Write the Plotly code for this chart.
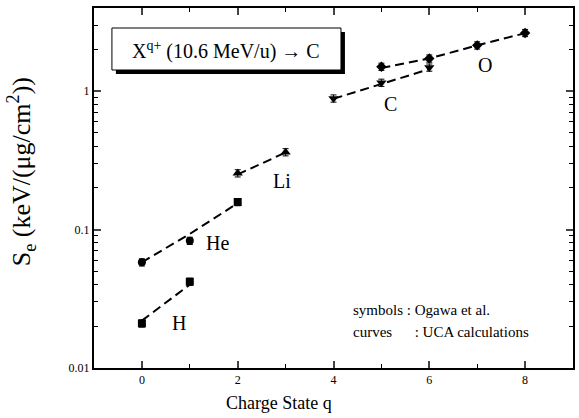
import plotly.graph_objects as go

# ---- data ----
h_q = [0, 1]
h_se = [0.021, 0.042]
he_q = [0, 1]
he_se = [0.058, 0.083]
he2_q = [2]
he2_se = [0.158]
li_q = [2, 3]
li_se = [0.255, 0.362]
c_q = [4, 5, 6]
c_se = [0.885, 1.15, 1.48]
o_q = [5, 6, 7, 8]
o_se = [1.50, 1.72, 2.14, 2.63]

# UCA calculation curves
h_cq = [0, 1]
h_cse = [0.022, 0.040]
he_cq = [0, 1, 2]
he_cse = [0.058, 0.093, 0.155]
li_cq = [2, 3]
li_cse = [0.25, 0.36]
c_cq = [4, 5, 6]
c_cse = [0.88, 1.13, 1.44]
o_cq = [5, 6, 7, 8]
o_cse = [1.47, 1.72, 2.14, 2.62]

x_ticks = [0, 2, 4, 6, 8]
y_ticks = [0.01, 0.1, 1]
y_tick_text = ["0.01", "0.1", "1"]

FONT = "Liberation Serif"

fig = go.Figure()

dash = "9px,5px"
for cq, cse in [(h_cq, h_cse), (he_cq, he_cse), (li_cq, li_cse), (c_cq, c_cse), (o_cq, o_cse)]:
    fig.add_trace(go.Scatter(x=cq, y=cse, mode="lines",
                             line=dict(color="black", width=2, dash=dash),
                             showlegend=False, hoverinfo="skip"))

err = dict(type="percent", value=6, color="black", thickness=1, width=3)
for q, se, sym, sz in [(h_q, h_se, "square", 8), (he_q, he_se, "circle", 8),
                       (he2_q, he2_se, "square", 8), (li_q, li_se, "triangle-up", 9),
                       (c_q, c_se, "triangle-down", 9), (o_q, o_se, "diamond", 8)]:
    fig.add_trace(go.Scatter(x=q, y=se, mode="markers",
                             marker=dict(symbol=sym, size=sz, color="black"),
                             error_y=err, showlegend=False))

minor_vals = [m * 10 ** e for e in (-2, -1, 0) for m in range(2, 10)]

fig.update_xaxes(range=[-1, 9], tickvals=x_ticks, ticks="inside", ticklen=7, tickwidth=1.5,
                 showline=True, linewidth=2, linecolor="black", mirror="ticks",
                 showgrid=False, zeroline=False,
                 tickfont=dict(family=FONT, size=12, color="black"),
                 minor=dict(tickvals=[1, 3, 5, 7], ticks="inside", ticklen=4, tickwidth=1, tickcolor="black"))
fig.update_yaxes(type="log", range=[-2, 0.6], tickvals=y_ticks, ticktext=y_tick_text,
                 ticks="inside", ticklen=7, tickwidth=1.5,
                 showline=True, linewidth=2, linecolor="black", mirror="ticks",
                 showgrid=False, zeroline=False,
                 tickfont=dict(family=FONT, size=12, color="black"),
                 minor=dict(tickvals=minor_vals, ticks="inside", ticklen=4, tickwidth=1, tickcolor="black"))

def px(xp):
    return (xp - 94) / 481.0

def py(yp):
    return (368 - yp) / 360.0

shapes = [
    dict(type="rect", xref="paper", yref="paper", x0=px(116), x1=px(346), y0=py(74), y1=py(32),
         fillcolor="black", line=dict(width=0)),
    dict(type="rect", xref="paper", yref="paper", x0=px(112), x1=px(342), y0=py(70), y1=py(28),
         fillcolor="white", line=dict(color="black", width=1)),
]

def ann(text, x, y, size, xref="paper", yref="paper", xanchor="center", **kw):
    return dict(text=text, x=x, y=y, xref=xref, yref=yref, xanchor=xanchor, yanchor="middle",
                showarrow=False, font=dict(family=FONT, size=size, color="black"), **kw)

annotations = [
    ann("X<sup>q+</sup> (10.6 MeV/u) \u2192 C", px(227), py(50), 20),
    ann("Li", 2.92, -0.653, 20, xref="x", yref="y"),
    ann("He", 1.57, -1.094, 20, xref="x", yref="y"),
    ann("H", 0.78, -1.675, 20, xref="x", yref="y"),
    ann("C", 5.19, -0.096, 20, xref="x", yref="y"),
    ann("O", 7.17, 0.185, 20, xref="x", yref="y"),
    ann("symbols : Ogawa et al.", px(352), py(310), 15, xanchor="left"),
    ann("curves" + "\u00a0" * 6 + ": UCA calculations", px(352), py(332), 15, xanchor="left"),
    ann("Charge State q", px(280), py(403), 18),
    ann("S<sub>e</sub> (keV/(\u03bcg/cm<sup>2</sup>))", px(21), py(172), 26, textangle=-90),
]

fig.update_layout(width=579, height=418, margin=dict(l=94, r=4, t=8, b=50),
                  paper_bgcolor="white", plot_bgcolor="white",
                  shapes=shapes, annotations=annotations, showlegend=False)

fig.write_html("out.html")
